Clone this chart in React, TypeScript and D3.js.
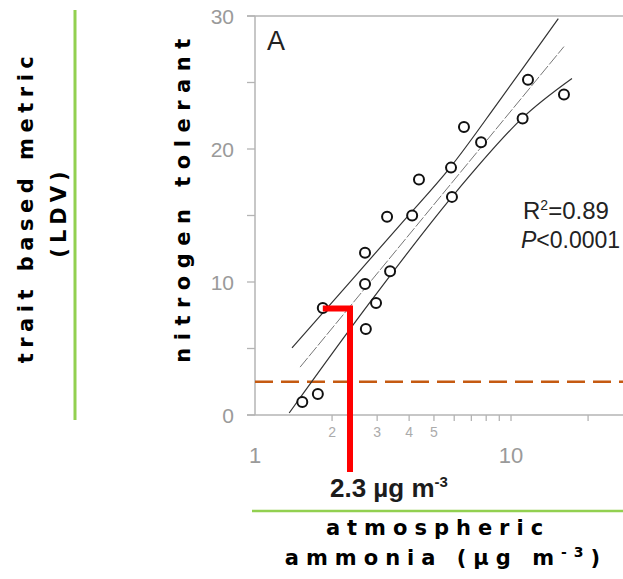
import React, { useEffect, useRef } from "react";
import * as d3 from "d3";

// observed sites: atmospheric ammonia (ug m-3) vs nitrogen tolerant metric
const ammonia = [1.53, 1.76, 1.84, 2.69, 2.69, 2.71, 2.97, 3.28, 3.37, 4.11, 4.37, 5.83, 5.88, 6.55, 7.64, 11.1, 11.65, 16.1];
const tolerant = [0.98, 1.58, 8.05, 12.2, 9.85, 6.47, 8.42, 14.9, 10.8, 15.0, 17.7, 18.6, 16.4, 21.65, 20.5, 22.3, 25.2, 24.1];

// regression line and confidence band
const fitX = [1.5, 16.1];
const fitY = [3.6, 27.7];
const upperX = [1.395, 3.69, 5.78, 9.06, 15.3];
const upperY = [5.04, 14.3, 18.6, 23.7, 29.8];
const lowerX = [1.36, 2.82, 5.88, 11.04, 17.3];
const lowerY = [0.15, 8.5, 16.4, 22.3, 25.3];

const baselineLevel = 2.5;
const thresholdFromX = 1.84;
const thresholdX = 2.35;
const thresholdY = 8;
const thresholdLabel = "2.3 \u00b5g m";

const yTicks = [0, 10, 20, 30];
const yMinorTicks = [5, 15, 25];
const xTicks = [2, 3, 4, 5, 6, 7, 8, 9, 10, 20];
const xBigLabels = [1, 10];
const xSmallLabels = [2, 3, 4, 5];

function App() {
  const svgRef = useRef(null);
  const width = 623;
  const height = 579;

  useEffect(() => {
    const svg = d3.select(svgRef.current);
    svg.selectAll("*").remove();

    const x = d3.scaleLog().domain([1, 27.38]).range([255, 623]);
    const y = d3.scaleLinear().domain([0, 30]).range([415, 16]);
    const axisColor = "#b4b4b4";
    const sans = "'Liberation Sans', Arial, sans-serif";
    const bold = "'DejaVu Sans', Verdana, sans-serif";

    // frame: top border, y axis, x axis
    svg.append("line")
      .attr("x1", 247).attr("x2", 623)
      .attr("y1", y(30)).attr("y2", y(30))
      .attr("stroke", axisColor).attr("stroke-width", 1.5);
    svg.append("line")
      .attr("x1", x(1)).attr("x2", x(1))
      .attr("y1", y(30)).attr("y2", y(0))
      .attr("stroke", axisColor).attr("stroke-width", 1.5);
    svg.append("line")
      .attr("x1", 247).attr("x2", 623)
      .attr("y1", y(0)).attr("y2", y(0))
      .attr("stroke", axisColor).attr("stroke-width", 1.5);

    // y ticks
    svg.selectAll(".ytick")
      .data(yTicks.concat(yMinorTicks))
      .enter().append("line")
      .attr("x1", x(1) - 8).attr("x2", x(1))
      .attr("y1", (d) => y(d)).attr("y2", (d) => y(d))
      .attr("stroke", axisColor).attr("stroke-width", 1.3);
    svg.selectAll(".ylab")
      .data(yTicks)
      .enter().append("text")
      .attr("x", 234).attr("y", (d) => y(d))
      .attr("text-anchor", "end")
      .attr("dominant-baseline", "central")
      .attr("font-family", sans).attr("font-size", 21)
      .attr("fill", "#9a9a9a")
      .text((d) => d);

    // x ticks
    svg.selectAll(".xtick")
      .data(xTicks)
      .enter().append("line")
      .attr("x1", (d) => x(d)).attr("x2", (d) => x(d))
      .attr("y1", y(0)).attr("y2", y(0) + 6)
      .attr("stroke", axisColor).attr("stroke-width", 1.3);
    svg.selectAll(".xsmall")
      .data(xSmallLabels)
      .enter().append("text")
      .attr("x", (d) => x(d)).attr("y", y(0) + 22)
      .attr("text-anchor", "middle")
      .attr("font-family", sans).attr("font-size", 14)
      .attr("fill", "#ababab")
      .text((d) => d);
    svg.selectAll(".xbig")
      .data(xBigLabels)
      .enter().append("text")
      .attr("x", (d) => x(d)).attr("y", y(0) + 48)
      .attr("text-anchor", "middle")
      .attr("font-family", sans).attr("font-size", 22)
      .attr("fill", "#9a9a9a")
      .text((d) => d);

    // panel letter
    svg.append("text")
      .attr("x", 267).attr("y", 50)
      .attr("font-family", sans).attr("font-size", 27)
      .attr("fill", "#222")
      .text("A");

    // dashed reference level
    svg.append("line")
      .attr("x1", x(1)).attr("x2", 623)
      .attr("y1", y(baselineLevel)).attr("y2", y(baselineLevel))
      .attr("stroke", "#c55a11").attr("stroke-width", 2.5)
      .attr("stroke-dasharray", "18 8");

    // regression + confidence lines
    const curve = d3.line()
      .x((d) => x(d[0]))
      .y((d) => y(d[1]))
      .curve(d3.curveCatmullRom);
    svg.append("path")
      .attr("d", curve(upperX.map((v, i) => [v, upperY[i]])))
      .attr("fill", "none").attr("stroke", "#333").attr("stroke-width", 1.2);
    svg.append("path")
      .attr("d", curve(lowerX.map((v, i) => [v, lowerY[i]])))
      .attr("fill", "none").attr("stroke", "#333").attr("stroke-width", 1.2);
    svg.append("path")
      .attr("d", curve(fitX.map((v, i) => [v, fitY[i]])))
      .attr("fill", "none").attr("stroke", "#666").attr("stroke-width", 0.9)
      .attr("stroke-dasharray", "12 2");

    // points
    svg.selectAll(".pt")
      .data(ammonia.map((v, i) => [v, tolerant[i]]))
      .enter().append("circle")
      .attr("cx", (d) => x(d[0])).attr("cy", (d) => y(d[1]))
      .attr("r", 5)
      .attr("fill", "white").attr("stroke", "#111").attr("stroke-width", 2);

    // red threshold marker
    svg.append("path")
      .attr("d", `M${x(thresholdFromX)},${y(thresholdY)}H${x(thresholdX)}V${y(0) + 57}`)
      .attr("fill", "none").attr("stroke", "#ff0000")
      .attr("stroke-width", 6).attr("stroke-linejoin", "miter");

    const thr = svg.append("text")
      .attr("x", 330).attr("y", 497)
      .attr("font-family", sans).attr("font-size", 26)
      .attr("font-weight", "bold").attr("fill", "#1c1c1c");
    thr.append("tspan").text(thresholdLabel);
    thr.append("tspan").attr("dy", -10).attr("font-size", 15).text("-3");

    // stats
    const r2 = svg.append("text")
      .attr("x", 523).attr("y", 219)
      .attr("font-family", sans).attr("font-size", 24).attr("fill", "#222");
    r2.append("tspan").text("R");
    r2.append("tspan").attr("dy", -9).attr("font-size", 14).text("2");
    r2.append("tspan").attr("dy", 9).text("=0.89");
    const p = svg.append("text")
      .attr("x", 521).attr("y", 248)
      .attr("font-family", sans).attr("font-size", 23).attr("fill", "#222");
    p.append("tspan").attr("font-style", "italic").text("P");
    p.append("tspan").text("<0.0001");

    // green guide lines
    svg.append("line")
      .attr("x1", 75).attr("x2", 75).attr("y1", 10).attr("y2", 420)
      .attr("stroke", "#92d050").attr("stroke-width", 3);
    svg.append("line")
      .attr("x1", 252).attr("x2", 623).attr("y1", 511).attr("y2", 511)
      .attr("stroke", "#92d050").attr("stroke-width", 2.5);

    // axis titles
    const title = (tx, ty, rot, txt, spacing) =>
      svg.append("text")
        .attr("transform", `translate(${tx},${ty}) rotate(${rot})`)
        .attr("text-anchor", "middle")
        .attr("font-family", bold).attr("font-size", 21)
        .attr("font-weight", "bold").attr("fill", "#000")
        .attr("letter-spacing", spacing)
        .text(txt);
    title(33, 207, -90, "trait based metric", 5.5);
    title(66, 212, -90, "(LDV)", 5);
    title(190, 197, -90, "nitrogen tolerant", 7.5);
    title(438, 535, 0, "atmospheric", 7);

    const am = svg.append("text")
      .attr("x", 446).attr("y", 565)
      .attr("text-anchor", "middle")
      .attr("font-family", bold).attr("font-size", 21)
      .attr("font-weight", "bold").attr("fill", "#000")
      .attr("letter-spacing", 7);
    am.append("tspan").text("ammonia (\u00b5g m");
    am.append("tspan").attr("dy", -8).attr("font-size", 14).text("-3");
    am.append("tspan").attr("dy", 8).text(")");
  }, []);

  return (
    <svg ref={svgRef}
      style={{ position: "absolute", left: 0, top: 0, background: "#fff" }}
      width={width}
      height={height}
    ></svg>
  );
}

export default App;
